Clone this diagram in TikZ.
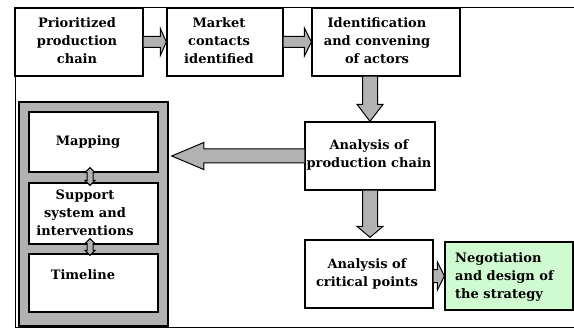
\documentclass[tikz,border=0pt]{standalone}
\usepackage{fontspec}
\setmainfont{DejaVu Serif}
\usetikzlibrary{calc}
\definecolor{panelgray}{RGB}{178,178,178}
\definecolor{mint}{RGB}{208,250,208}
\begin{document}
\begin{tikzpicture}[x=1pt,y=-1pt,
  box/.style={draw=black,line width=1.3pt,fill=white,inner sep=0pt},
  txt/.style={font=\fontsize{13}{18}\selectfont\bfseries,align=center,inner sep=0pt},
  blk/.style={draw=black,line width=1pt,fill=panelgray,line join=miter}]
% canvas
\useasboundingbox (0,0) rectangle (574,329);
% frame lines
\draw[line width=1pt] (574,8) -- (15,8) -- (15,327) -- (574,327);

% top row
\node[box,minimum width=128pt,minimum height=68pt] (b1) at (79,42) {};
\node[box,minimum width=116pt,minimum height=68pt] (b2) at (225,42) {};
\node[box,minimum width=148pt,minimum height=68pt] (b3) at (386,42) {};
\node[txt] (t1) at (77,41) {Prioritized\\production\\chain};
\node[txt] (t2) at (219,41) {Market\\contacts\\identified};
\node[txt] (t3) at (377,41) {Identification\\and convening\\of actors};

% middle and bottom
\node[box,minimum width=130pt,minimum height=68pt] (b4) at (370,156) {};
\node[txt] (t4) at (369,155) {Analysis of\\production chain};
\node[box,minimum width=128pt,minimum height=68pt] (b5) at (369,274) {};
\node[txt] (t5) at (367,274) {Analysis of\\critical points};
\node[box,fill=mint,minimum width=128pt,minimum height=68pt] (b6) at (509,276) {};
\node[txt,align=left,anchor=west] (t6) at (455,277) {Negotiation\\and design of\\the strategy};

% grey panel with its three steps
\node[box,fill=panelgray,line width=1.5pt,minimum width=149pt,minimum height=224pt] (panel) at (93.5,214) {};
\node[box,minimum width=129pt,minimum height=60pt] (m1) at (93.5,142) {};
\node[box,minimum width=129pt,minimum height=61pt] (m2) at (93.5,213.5) {};
\node[box,minimum width=129pt,minimum height=58pt] (m3) at (93.5,283) {};
\node[txt] (mt1) at (88,142) {Mapping};
\node[txt] (mt2) at (85,212.5) {Support\\system and\\interventions};
\node[txt] (mt3) at (83,275) {Timeline};

% block arrows (let gives canvas coordinates, where y grows upwards)
\newcommand\arrR[5]{\draw[blk] let \p1=(#1), \p2=(#2) in
  (\x1,\y2-#3) -- (\x2-#5,\y2-#3) -- (\x2-#5,\y2-#4) -- (\x2,\y2) -- (\x2-#5,\y2+#4) -- (\x2-#5,\y2+#3) -- (\x1,\y2+#3);}
\newcommand\arrL[5]{\draw[blk] let \p1=(#1), \p2=(#2) in
  (\x1,\y2-#3) -- (\x2+#5,\y2-#3) -- (\x2+#5,\y2-#4) -- (\x2,\y2) -- (\x2+#5,\y2+#4) -- (\x2+#5,\y2+#3) -- (\x1,\y2+#3);}
\newcommand\arrD[5]{\draw[blk] let \p1=(#1), \p2=(#2) in
  (\x2-#3,\y1) -- (\x2-#3,\y2+#5) -- (\x2-#4,\y2+#5) -- (\x2,\y2) -- (\x2+#4,\y2+#5) -- (\x2+#3,\y2+#5) -- (\x2+#3,\y1);}
\newcommand\arrUD[5]{\draw[blk] let \p1=(#1), \p2=(#2) in
  (\x1,\y1) -- (\x1+#4,\y1-#5) -- (\x1+#3,\y1-#5) -- (\x1+#3,\y2+#5) -- (\x1+#4,\y2+#5) -- (\x1,\y2)
  -- (\x1-#4,\y2+#5) -- (\x1-#3,\y2+#5) -- (\x1-#3,\y1-#5) -- (\x1-#4,\y1-#5) -- cycle;}

\arrR{b1.east}{b2.west}{5.5}{13.5}{6}
\arrR{b2.east}{b3.west}{5.5}{14}{7}
\arrD{b3.south}{b4.north}{7.5}{13}{17}
\arrD{b4.south}{$(b4.south |- b5.north)+(0,-2)$}{7.5}{13}{11}
\arrR{b5.east}{b6.west}{6.5}{14}{7}
\arrL{b4.west}{$(panel.east |- b4.west)+(3,0)$}{7}{13.5}{32}
\arrUD{$(m1.south)+(-3.5,-5)$}{$(m2.north)+(-3.5,3)$}{3}{5}{5}
\arrUD{$(m2.south)+(-3.5,-6)$}{$(m3.north)+(-3.5,2)$}{3}{5}{5}
\end{tikzpicture}
\end{document}
